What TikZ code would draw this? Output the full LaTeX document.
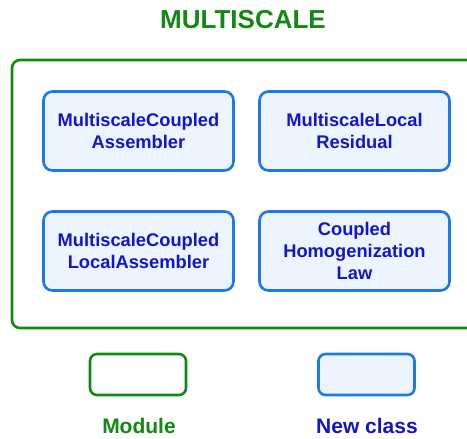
\documentclass[tikz,border=0pt]{standalone}
\usepackage{fontspec}
\setmainfont{Liberation Sans}
\usepackage{tikz}
\usetikzlibrary{positioning}
\definecolor{ModuleGreen}{RGB}{20, 136, 20}
\definecolor{ClassBlue}{RGB}{30, 120, 230}
\definecolor{ClassFill}{RGB}{236, 245, 255}
\definecolor{ClassText}{RGB}{20, 20, 200}
\tikzset{
    classbox/.style={rectangle, draw=ClassBlue, fill=ClassFill, line width=2.6pt, rounded corners=9pt,
        minimum width=190pt, minimum height=79pt, align=center, text=ClassText,
        font=\fontsize{18.3}{22}\selectfont\bfseries},
    legendtext/.style={font=\fontsize{21}{24}\selectfont\bfseries}
}

\begin{document}
\begin{tikzpicture}[x=1pt, y=-1pt]
    \useasboundingbox (0,0) rectangle (467,439);
    % title and module frame
    \node[text=ModuleGreen, font=\fontsize{26}{30}\selectfont\bfseries] (title) at (243,20) {MULTISCALE};
    \draw[ModuleGreen, line width=2.6pt, rounded corners=8pt] (475,60) -- (12,60) -- (12,328) -- (475,328);
    % classes
    \node[classbox] (assembler) at (138.5,131) {MultiscaleCoupled\\Assembler};
    \node[classbox] (residual) at (354.5,131) {MultiscaleLocal\\Residual};
    \node[classbox] (localassembler) at (138.5,251) {MultiscaleCoupled\\LocalAssembler};
    \node[classbox] (law) at (354.5,251) {Coupled\\Homogenization\\Law};
    % legend
    \node[rectangle, draw=ModuleGreen, line width=2.6pt, rounded corners=7pt, minimum width=96pt, minimum height=41pt] (modulekey) at (138,374.5) {};
    \node[rectangle, draw=ClassBlue, fill=ClassFill, line width=2.6pt, rounded corners=7pt, minimum width=96pt, minimum height=41pt] (classkey) at (366.5,374.5) {};
    \node[legendtext, text=ModuleGreen] (modulelabel) at (139,426) {Module};
    \node[legendtext, text=ClassText] (classlabel) at (367,426) {New class};
\end{tikzpicture}
\end{document}
